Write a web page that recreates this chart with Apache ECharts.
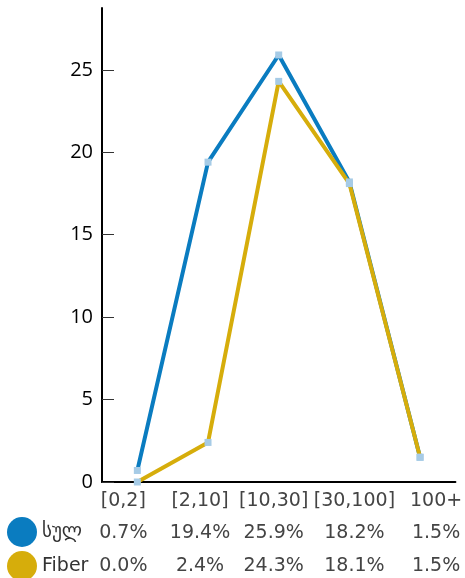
<!DOCTYPE html>
<html><head><meta charset="utf-8">
<script src="https://cdn.jsdelivr.net/npm/echarts@6/dist/echarts.min.js"></script>
<style>html,body{margin:0;padding:0;background:#fff}#c{width:465px;height:578px}</style>
</head><body><div id="c"></div>
<script>
const categories = ['[0,2]', '[2,10]', '[10,30]', '[30,100]', '100+'];
const seriesNames = ['სულ', 'Fiber'];
const totalValues = [0.7, 19.4, 25.9, 18.2, 1.5];
const fiberValues = [0.0, 2.4, 24.3, 18.1, 1.5];
const yTicks = [0, 5, 10, 15, 20, 25];

// layout: horizontal shift (px) of each table column relative to the band centre
const colShift = [-14, -8, -5, 5, 16];

const BLUE = '#0a7cc0', GOLD = '#d6ad0b', MARK = '#a6cbe6';
const pct = v => v.toFixed(1) + '%';
const rich = {};
colShift.forEach((s, i) => {
  rich['c' + i] = {
    fontFamily: 'DejaVu Sans', fontSize: 19, color: '#444',
    padding: s < 0 ? [0, -2 * s, 0, 0] : [0, 0, 0, 2 * s]
  };
});
const tableLabel = {
  interval: 0, margin: 9, fontFamily: 'DejaVu Sans', fontSize: 19, color: '#444',
  formatter: (v, i) => '{c' + i + '|' + v + '}', rich: rich
};
const legendBase = {
  orient: 'vertical', left: 7, padding: 0, itemWidth: 30, itemHeight: 30,
  textStyle: { fontFamily: 'DejaVu Sans', fontSize: 19, color: '#333' }
};

const chart = echarts.init(document.getElementById('c'), null, { renderer: 'canvas' });
chart.setOption({
  animation: false,
  grid: { left: 102, right: 8, top: 8, bottom: 96 },
  legend: [
    Object.assign({ top: 517, data: [{ name: seriesNames[0], icon: 'circle', itemStyle: { color: BLUE } }] }, legendBase),
    Object.assign({ top: 551, data: [{ name: seriesNames[1], icon: 'circle', itemStyle: { color: GOLD } }] }, legendBase)
  ],
  xAxis: [
    {
      type: 'category', data: categories, boundaryGap: true,
      axisLine: { lineStyle: { color: '#000', width: 2 } },
      axisTick: { inside: true, length: 12, lineStyle: { color: '#333', width: 1 } },
      axisLabel: Object.assign({}, tableLabel, { margin: 10 })
    },
    {
      type: 'category', data: totalValues.map(pct), position: 'bottom', offset: 33,
      axisLine: { show: false }, axisTick: { show: false },
      axisLabel: tableLabel
    },
    {
      type: 'category', data: fiberValues.map(pct), position: 'bottom', offset: 66,
      axisLine: { show: false }, axisTick: { show: false },
      axisLabel: tableLabel
    }
  ],
  yAxis: {
    type: 'value', min: 0, max: 28.75, interval: 5,
    splitLine: { show: false },
    axisLine: { show: true, lineStyle: { color: '#000', width: 2 } },
    axisTick: { show: true, inside: true, length: 12, customValues: yTicks, lineStyle: { color: '#333', width: 1 } },
    axisLabel: { customValues: yTicks, margin: 9, fontFamily: 'Open Sans', fontSize: 20, color: '#000' }
  },
  series: [
    {
      name: seriesNames[0], type: 'line', data: totalValues, xAxisIndex: 0,
      symbol: 'rect', symbolSize: 7, showAllSymbol: true,
      lineStyle: { color: BLUE, width: 4 }, itemStyle: { color: MARK }
    },
    {
      name: seriesNames[1], type: 'line', data: fiberValues, xAxisIndex: 0,
      symbol: 'rect', symbolSize: 7, showAllSymbol: true,
      lineStyle: { color: GOLD, width: 4 }, itemStyle: { color: MARK }
    }
  ]
});
</script></body></html>
